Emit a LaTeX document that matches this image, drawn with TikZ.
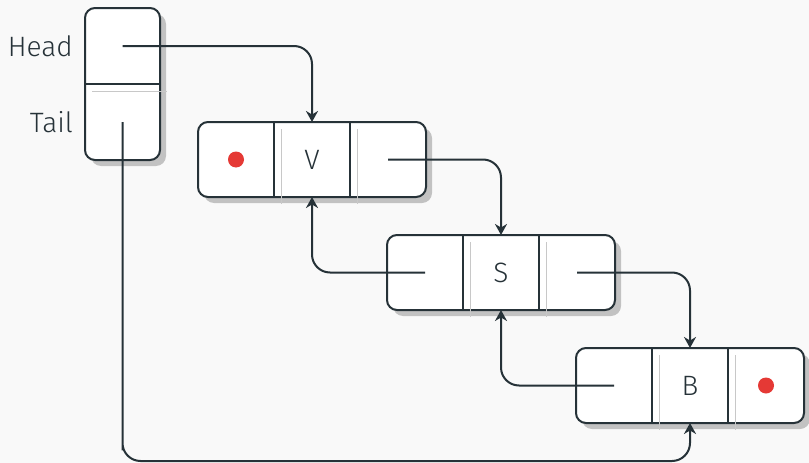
\documentclass[tikz,border=0pt]{standalone}
\usepackage{fontspec}
\setmainfont{Fira Sans}[UprightFont=* Light]
\usetikzlibrary{positioning,arrows.meta}

\definecolor{ink}{HTML}{263238}
\definecolor{shade}{HTML}{C2C2C2}
\definecolor{ghost}{HTML}{C8C8C8}
\definecolor{dot}{HTML}{E53935}
\definecolor{paper}{HTML}{F9F9F9}

\tikzset{
  cell/.style={minimum width=76pt, minimum height=75pt, inner sep=0pt, outer sep=0pt},
  box/.style={fill=white, draw=ink, line width=2pt, rounded corners=10pt},
  shadow/.style={fill=shade, rounded corners=10pt},
  divider/.style={draw=ink, line width=2pt},
  ghostline/.style={draw=ghost, line width=0.8pt},
  link/.style={draw=ink, line width=2pt, rounded corners=18pt, -{Stealth[length=11pt, width=12pt, inset=3.5pt]}},
}

\begin{document}
\begin{tikzpicture}[x=1pt, y=-1pt, font=\fontsize{28}{32}\selectfont, text=ink]

  \fill[paper] (0,0) rectangle (809,463);
  \useasboundingbox (0,0) rectangle (809,463);

  % head / tail box
  \fill[shadow] (91,14) rectangle ++(75,152);
  \draw[box] (85,8) rectangle ++(75,152);
  \node (hd) at (122.5,46) [cell, minimum width=75pt, minimum height=76pt] {};
  \node (tl) [cell, minimum width=75pt, minimum height=76pt, below=0pt of hd] {};
  \draw[divider] (hd.south west) -- (hd.south east);
  \draw[ghostline] ([shift={(7,7)}]hd.south west) -- ([shift={(7,7)}]hd.south east);

  \node (headlbl) [left=12pt of hd, inner sep=0pt] {Head};
  \node (taillbl) [left=12pt of tl, inner sep=0pt] {Tail};

  % list nodes
  \foreach \n/\x/\y/\lbl in {v/198/122/V, s/387/235/S, b/576/348/B} {
    \fill[shadow] (\x+6,\y+6) rectangle ++(228,75);
    \draw[box] (\x,\y) rectangle ++(228,75);
    \node (\n p) at (\x+38,\y+37.5) [cell] {};
    \node (\n d) [cell, right=0pt of \n p] {\lbl};
    \node (\n n) [cell, right=0pt of \n d] {};
    \draw[divider] (\n d.north west) -- (\n d.south west);
    \draw[divider] (\n d.north east) -- (\n d.south east);
    \draw[ghostline] ([shift={(7,7)}]\n d.north west) -- ([shift={(7,7)}]\n d.south west);
    \draw[ghostline] ([shift={(7,7)}]\n d.north east) -- ([shift={(7,7)}]\n d.south east);
  }

  % null pointers
  \fill[dot] (vp) circle (8pt);
  \fill[dot] (bn) circle (8pt);

  % links
  \coordinate (loop) at (122.5,461);
  \draw[link] (hd.center) -| (vd.north);
  \draw[link] (vn.center) -| (sd.north);
  \draw[link] (sn.center) -| (bd.north);
  \draw[link] (sp.center) -| (vd.south);
  \draw[link] (bp.center) -| (sd.south);
  \draw[link] (tl.center) |- (loop) -| (bd.south);

\end{tikzpicture}
\end{document}
